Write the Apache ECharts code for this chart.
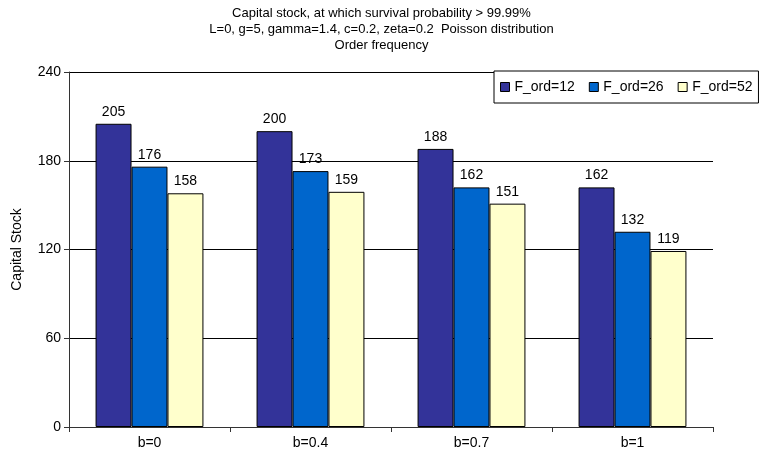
<!DOCTYPE html>
<html>
<head>
<meta charset="utf-8">
<script src="https://cdn.jsdelivr.net/npm/echarts@6/dist/echarts.min.js"></script>
<style>
html, body { margin: 0; padding: 0; background: #fff; }
#chart { width: 763px; height: 462px; }
</style>
</head>
<body>
<div id="chart"></div>
<script>
var categories = ['b=0', 'b=0.4', 'b=0.7', 'b=1'];
var seriesNames = ['F_ord=12', 'F_ord=26', 'F_ord=52'];
var ford12 = [205, 200, 188, 162];
var ford26 = [176, 173, 162, 132];
var ford52 = [158, 159, 151, 119];
var yTicks = [0, 60, 120, 180, 240];

var colors = ['#333399', '#0066CC', '#FFFFCC'];
var font = 'Liberation Sans, Arial, sans-serif';

var chart = echarts.init(document.getElementById('chart'));

function makeSeries(name, data, color) {
    return {
        name: name,
        type: 'bar',
        data: data,
        barGap: '0%',
        barCategoryGap: '33%',
        itemStyle: { color: color, borderColor: '#000', borderWidth: 1 },
        label: {
            show: true,
            position: 'top',
            distance: 5,
            color: '#000',
            fontFamily: font,
            fontSize: 14
        }
    };
}

var option = {
    animation: false,
    backgroundColor: '#fff',
    title: {
        text: 'Capital stock, at which survival probability > 99.99%\nL=0, g=5, gamma=1.4, c=0.2, zeta=0.2  Poisson distribution\nOrder frequency',
        left: 'center',
        top: 0,
        textStyle: {
            fontFamily: font,
            fontSize: 13,
            fontWeight: 'normal',
            color: '#000',
            lineHeight: 16
        }
    },
    legend: {
        data: seriesNames,
        icon: 'rect',
        left: 494,
        right: 0,
        top: 71,
        orient: 'horizontal',
        padding: [9, 6, 9, 6],
        itemGap: 14,
        itemWidth: 9,
        itemHeight: 9,
        backgroundColor: '#fff',
        borderColor: '#000',
        borderWidth: 1,
        itemStyle: { borderColor: '#000', borderWidth: 1 },
        textStyle: { fontFamily: font, fontSize: 14, color: '#000' }
    },
    grid: {
        left: 69,
        right: 50,
        top: 72,
        bottom: 35
    },
    xAxis: {
        type: 'category',
        data: categories,
        axisLine: { lineStyle: { color: '#333', width: 1 } },
        axisTick: { show: true, length: 5, lineStyle: { color: '#333' } },
        axisLabel: { fontFamily: font, fontSize: 14, color: '#000', margin: 9 }
    },
    yAxis: {
        type: 'value',
        min: yTicks[0],
        max: yTicks[yTicks.length - 1],
        interval: 60,
        name: 'Capital Stock',
        nameLocation: 'middle',
        nameGap: 45,
        nameTextStyle: { fontFamily: font, fontSize: 14, color: '#000' },
        axisLine: { show: true, lineStyle: { color: '#333', width: 1 } },
        axisTick: { show: true, length: 5, lineStyle: { color: '#333' } },
        axisLabel: { fontFamily: font, fontSize: 14, color: '#000', margin: 8 },
        splitLine: { show: true, lineStyle: { color: '#000', width: 1 } }
    },
    series: [
        makeSeries(seriesNames[0], ford12, colors[0]),
        makeSeries(seriesNames[1], ford26, colors[1]),
        makeSeries(seriesNames[2], ford52, colors[2])
    ]
};

chart.setOption(option);
</script>
</body>
</html>
